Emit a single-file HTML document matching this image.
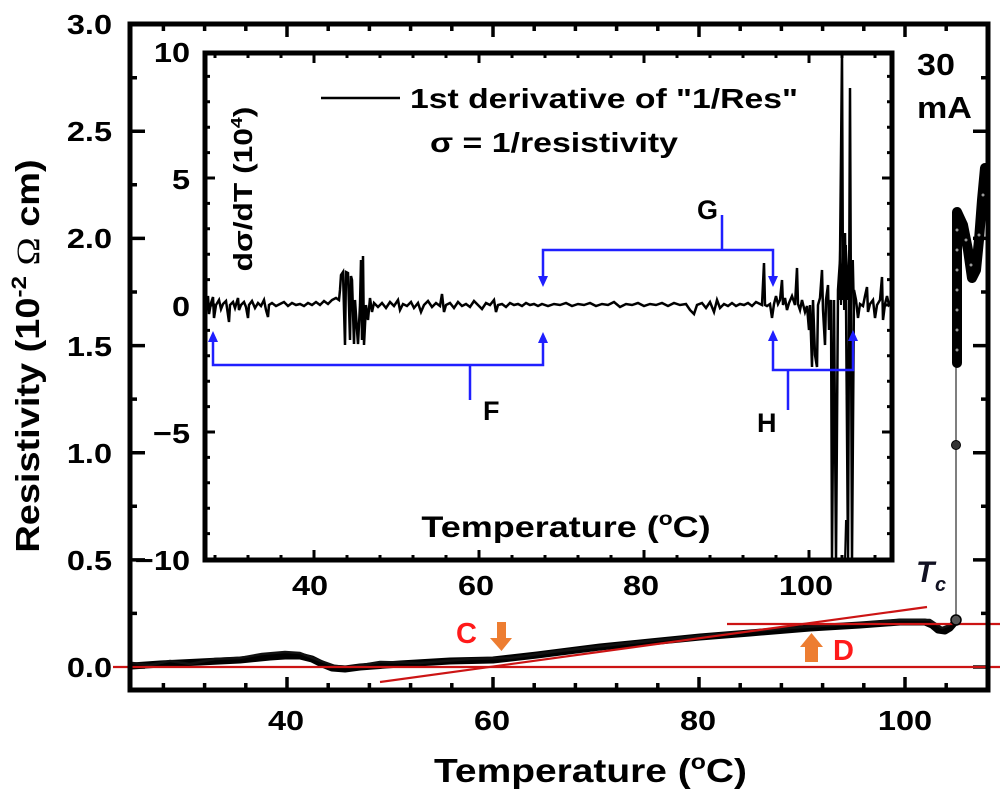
<!DOCTYPE html>
<html><head><meta charset="utf-8"><style>
html,body{margin:0;padding:0;background:#fff;}
svg{display:block;}
text{font-family:"Liberation Sans",Arial,sans-serif;font-weight:bold;fill:#000;}
</style></head><body>
<svg xmlns="http://www.w3.org/2000/svg" width="1000" height="794" viewBox="0 0 1000 794">
<defs><clipPath id="ic"><rect x="207" y="55" width="683" height="503"/></clipPath></defs>
<rect width="1000" height="794" fill="#fff"/>

<!-- main ticks -->
<g stroke="#000" stroke-width="3.5" fill="none">
<path d="M163.4,690v-7M204.6,690v-7M245.8,690v-7M287,690v-13M328.2,690v-7M369.4,690v-7M410.6,690v-7M451.8,690v-7M493,690v-13M534.2,690v-7M575.4,690v-7M616.6,690v-7M657.8,690v-7M699,690v-13M740.2,690v-7M781.4,690v-7M822.6,690v-7M863.8,690v-7M905,690v-13M946.2,690v-7"/>
<path d="M163.4,24v7M204.6,24v7M245.8,24v7M287,24v13M328.2,24v7M369.4,24v7M410.6,24v7M451.8,24v7M493,24v13M534.2,24v7M575.4,24v7M616.6,24v7M657.8,24v7M699,24v13M740.2,24v7M781.4,24v7M822.6,24v7M863.8,24v7M905,24v13M946.2,24v7"/>
<path d="M130,667h15M130,613.4h7M130,559.9h15M130,506.3h7M130,452.7h15M130,399.1h7M130,345.6h15M130,292h7M130,238.4h15M130,184.8h7M130,131.3h15M130,77.7h7"/>
<path d="M988,667h-15M988,613.4h-7M988,559.9h-15M988,506.3h-7M988,452.7h-15M988,399.1h-7M988,345.6h-15M988,292h-7M988,238.4h-15M988,184.8h-7M988,131.3h-15M988,77.7h-7"/>
</g>

<!-- main data -->
<path d="M132,666 L160,664 L200,662 L240,660 L270,657 L285,656 L300,656 L312,659 L322,664 L332,668 L345,669 L360,667 L400,664 L450,661 L493,660 L537,655 L600,647 L650,642 L700,637 L750,633 L810,628 L860,625 L900,622 L925,622 L932,625 L938,630 L945,631 L950,628 L956,621" fill="none" stroke="#000" stroke-width="7" stroke-linejoin="round"/>
<path d="M132,663 L150,665 L170,661 L190,664 L215,659 L240,658 L262,654 L285,652 L300,653 L318,660 L335,666 L350,667 L380,662 L420,663 L470,659 L510,658 L560,651 L620,644 L680,638 L730,633 L790,628 L850,624 L900,620 L930,620 L942,628 L950,625" fill="none" stroke="#111" stroke-width="2.5" stroke-linejoin="round"/>

<!-- red fit lines -->
<g stroke="#cc1414" stroke-width="2.2">
<line x1="113" y1="667" x2="1000" y2="667"/>
<line x1="727" y1="624" x2="1000" y2="624"/>
<line x1="380" y1="682" x2="927" y2="607"/>
</g>

<!-- right-side jump -->
<line x1="956" y1="620" x2="956" y2="362" stroke="#555" stroke-width="1.5"/>
<circle cx="956" cy="445" r="4.5" fill="#333" stroke="#000" stroke-width="1"/>
<circle cx="956" cy="620" r="5" fill="#555" stroke="#000" stroke-width="1.5"/>
<path d="M957,363 V212 L963,225 L968,250 L972,278 L976,270 L979,240 L982,200 L985,168" fill="none" stroke="#000" stroke-width="10" stroke-linejoin="round" stroke-linecap="round"/>
<g fill="#999">
<circle cx="957" cy="350" r="1.5"/><circle cx="957" cy="330" r="1.5"/><circle cx="957" cy="310" r="1.5"/><circle cx="957" cy="290" r="1.5"/><circle cx="957" cy="270" r="1.5"/><circle cx="957" cy="250" r="1.5"/><circle cx="957" cy="230" r="1.5"/><circle cx="966" cy="240" r="1.5"/><circle cx="971" cy="265" r="1.5"/><circle cx="979" cy="235" r="1.5"/><circle cx="983" cy="195" r="1.5"/>
</g>

<!-- orange arrows -->
<polygon points="497,622 506,622 506,638 512,638 501.5,651 490,638 497,638" fill="#ed7d31"/>
<polygon points="805,662 818,662 818,647 823,647 811.5,633 800,647 805,647" fill="#ed7d31"/>
<text x="456" y="643" font-size="29" style="fill:#ff1a1a">C</text>
<text x="833" y="660" font-size="29" style="fill:#ff1a1a">D</text>
<text x="916" y="582" font-size="30" font-style="italic" style="fill:#111122">T</text>
<text x="935" y="591" font-size="20" font-style="italic" style="fill:#111122">c</text>
<text transform="translate(917,75) scale(1.1,1)" font-size="31">30</text>
<text transform="translate(917,118) scale(1.1,1)" font-size="31">mA</text>

<!-- main frame -->
<rect x="130" y="24" width="858" height="666" fill="none" stroke="#000" stroke-width="5"/>

<!-- main tick labels -->
<g font-size="28">
<text transform="translate(112,677) scale(1.16,1)" text-anchor="end">0.0</text>
<text transform="translate(112,570) scale(1.16,1)" text-anchor="end">0.5</text>
<text transform="translate(112,463) scale(1.16,1)" text-anchor="end">1.0</text>
<text transform="translate(112,356) scale(1.16,1)" text-anchor="end">1.5</text>
<text transform="translate(112,248) scale(1.16,1)" text-anchor="end">2.0</text>
<text transform="translate(112,141) scale(1.16,1)" text-anchor="end">2.5</text>
<text transform="translate(112,34) scale(1.16,1)" text-anchor="end">3.0</text>
<text transform="translate(286,730) scale(1.16,1)" text-anchor="middle">40</text>
<text transform="translate(492,730) scale(1.16,1)" text-anchor="middle">60</text>
<text transform="translate(698,730) scale(1.16,1)" text-anchor="middle">80</text>
<text transform="translate(905,730) scale(1.16,1)" text-anchor="middle">100</text>
</g>
<text transform="translate(590.5,782) scale(1.18,1)" text-anchor="middle" font-size="33">Temperature (<tspan dy="-13" font-size="21">o</tspan><tspan dy="13">C)</tspan></text>
<text transform="translate(39,356) rotate(-90) scale(1.15,1)" text-anchor="middle" font-size="33">Resistivity (10<tspan dy="-13" font-size="21">-2</tspan><tspan dy="13"> </tspan><tspan font-family="Liberation Serif" font-weight="normal">Ω</tspan> cm)</text>

<!-- inset -->
<rect x="205" y="53" width="687" height="507" fill="#fff"/>
<g stroke="#000" stroke-width="3" fill="none">
<path d="M215,560v-5M248,560v-5M281,560v-5M314,560v-10M347,560v-5M380,560v-5M413,560v-5M446,560v-5M479,560v-10M512,560v-5M545,560v-5M578,560v-5M611,560v-5M644,560v-10M677,560v-5M710,560v-5M743,560v-5M776,560v-5M809,560v-10M842,560v-5M875,560v-5"/>
<path d="M215,53v5M248,53v5M281,53v5M314,53v10M347,53v5M380,53v5M413,53v5M446,53v5M479,53v10M512,53v5M545,53v5M578,53v5M611,53v5M644,53v10M677,53v5M710,53v5M743,53v5M776,53v5M809,53v10M842,53v5M875,53v5"/>
<path d="M205,76.4h5M205,101.8h5M205,127.2h5M205,152.6h5M205,178h10M205,203.4h5M205,228.8h5M205,254.2h5M205,279.6h5M205,305h10M205,330.4h5M205,355.8h5M205,381.2h5M205,406.6h5M205,432h10M205,457.4h5M205,482.8h5M205,508.2h5M205,533.6h5"/>
<path d="M892,76.4h-5M892,101.8h-5M892,127.2h-5M892,152.6h-5M892,178h-10M892,203.4h-5M892,228.8h-5M892,254.2h-5M892,279.6h-5M892,305h-10M892,330.4h-5M892,355.8h-5M892,381.2h-5M892,406.6h-5M892,432h-10M892,457.4h-5M892,482.8h-5M892,508.2h-5M892,533.6h-5"/>
</g>

<!-- inset trace -->
<g clip-path="url(#ic)">
<path fill="none" stroke="#000" stroke-width="2.5" stroke-linejoin="miter" d="M207,305 L208,296 L209,314 L211,303 L213,297 L214,318 L216,305 L219,300 L221,309 L223,304 L226,301 L229,322 L230,305 L233,302 L235,308 L238,298 L239,310 L241,305 L244,302 L246,307 L248,318 L249,305 L252,301 L255,308 L258,303 L261,306 L264,300 L266,310 L268,317 L269,305 L272,303 L276,306 L280,304 L284,302 L288,306 L292,303 L296,305 L300,304 L304,306 L308,303 L312,305 L316,302 L320,305 L324,301 L328,304 L332,300 L336,298 L339,300 L340,290 L341,275 L343,272 L345,345 L346,272 L348,273 L350,340 L351,276 L352,280 L354,344 L355,300 L357,330 L358,344 L360,305 L361,260 L362,340 L363,256 L364,345 L366,305 L368,320 L370,298 L372,312 L374,303 L378,307 L382,303 L386,308 L390,302 L394,306 L398,300 L400,310 L403,304 L407,306 L411,302 L414,308 L418,303 L421,312 L424,305 L428,301 L432,307 L436,303 L440,306 L442,294 L444,312 L446,305 L450,303 L454,308 L458,302 L462,306 L466,304 L470,307 L474,301 L478,305 L482,309 L486,303 L490,305 L494,300 L496,312 L498,305 L502,304 L506,307 L510,303 L514,305 L518,304 L522,306 L526,303 L530,305 L534,304 L538,306 L542,304 L548,306 L554,304 L560,305 L566,303 L572,306 L578,304 L584,305 L590,303 L596,306 L602,304 L608,305 L614,302 L620,307 L626,304 L632,305 L638,303 L644,306 L650,304 L656,305 L662,303 L668,306 L674,303 L680,305 L686,304 L690,310 L694,314 L697,305 L702,303 L706,308 L710,302 L714,312 L717,300 L720,308 L724,304 L728,306 L732,303 L736,306 L740,304 L744,305 L748,303 L752,306 L756,302 L760,304 L762,305 L764,263 L765,305 L767,306 L770,304 L772,318 L774,304 L776,296 L778,304 L780,300 L782,280 L783,305 L785,298 L787,310 L789,303 L792,296 L795,305 L797,268 L798,304 L800,310 L802,300 L805,312 L807,306 L809,330 L810,305 L812,367 L813,300 L815,355 L817,367 L818,305 L820,298 L822,270 L823,310 L825,345 L826,300 L828,285 L829,330 L830,305 L831,300 L832,560 L834,300 L836,560 L838,290 L840,260 L842,53 L843,300 L845,233 L846,300 L848,560 L850,88 L852,560 L854,290 L856,300 L858,318 L860,304 L863,306 L865,296 L867,287 L868,312 L870,304 L873,300 L875,318 L877,305 L880,300 L882,277 L883,320 L885,304 L887,296 L889,305 L891,303"/>
<path fill="none" stroke="#000" stroke-width="2" d="M839,300 L840,250 L841,305 L843,240 L844,310 L846,245 L847,300 L849,250 L851,310 L853,260 L854,305 M845,560 L846,520"/>
</g>

<!-- blue brackets -->
<g stroke="#1f1fff" stroke-width="2.5" fill="none">
<path d="M213,340 V365 H543 V341 M470,365 V400"/>
<path d="M543,277 V250 H773 V277 M722,250 V215"/>
<path d="M773,338 V370 H853 V338 M788,370 V410"/>
</g>
<g fill="#1f1fff">
<polygon points="213,331 208,342 218,342"/>
<polygon points="543,332 538,343 548,343"/>
<polygon points="543,287 538,276 548,276"/>
<polygon points="773,287 768,276 778,276"/>
<polygon points="773,330 768,341 778,341"/>
<polygon points="853,330 848,341 858,341"/>
</g>
<text x="483" y="420" font-size="27">F</text>
<text x="697" y="219" font-size="27">G</text>
<text x="757" y="432" font-size="27">H</text>

<rect x="205" y="53" width="687" height="507" fill="none" stroke="#000" stroke-width="5"/>

<!-- inset tick labels -->
<g font-size="28">
<text transform="translate(190,62) scale(1.16,1)" text-anchor="end">10</text>
<text transform="translate(190,189) scale(1.16,1)" text-anchor="end">5</text>
<text transform="translate(190,316) scale(1.16,1)" text-anchor="end">0</text>
<text transform="translate(190,443) scale(1.16,1)" text-anchor="end">−5</text>
<text transform="translate(190,570) scale(1.16,1)" text-anchor="end">−10</text>
<text transform="translate(310,595) scale(1.16,1)" text-anchor="middle">40</text>
<text transform="translate(476,595) scale(1.16,1)" text-anchor="middle">60</text>
<text transform="translate(641,595) scale(1.16,1)" text-anchor="middle">80</text>
<text transform="translate(806,595) scale(1.16,1)" text-anchor="middle">100</text>
</g>
<text transform="translate(566,537) scale(1.2,1)" text-anchor="middle" font-size="30">Temperature (<tspan dy="-12" font-size="19">o</tspan><tspan dy="12">C)</tspan></text>
<text transform="translate(252,189) rotate(-90) scale(1.22,1)" text-anchor="middle" font-size="26">dσ/dT (10<tspan dy="-10" font-size="16">4</tspan><tspan dy="10">)</tspan></text>

<!-- legend -->
<line x1="321" y1="98" x2="400" y2="98" stroke="#000" stroke-width="2.5"/>
<text x="410" y="108" font-size="27.5" textLength="388" lengthAdjust="spacingAndGlyphs">1st derivative of "1/Res"</text>
<text x="430" y="152" font-size="27.5" textLength="248" lengthAdjust="spacingAndGlyphs">σ = 1/resistivity</text>
</svg>
</body></html>
